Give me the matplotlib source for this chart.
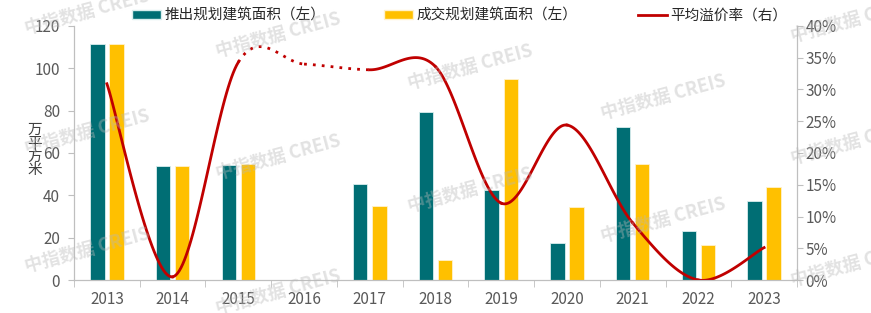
import numpy as np
import matplotlib.pyplot as plt
from matplotlib.lines import Line2D
from matplotlib.patches import Patch

plt.rcParams['font.family'] = ['Noto Sans CJK SC', 'DejaVu Sans']

# data
years = ['2013', '2014', '2015', '2016', '2017', '2018', '2019', '2020', '2021', '2022', '2023']
launched = [111.5, 54, 54.5, np.nan, 45.3, 79.5, 42.5, 17.5, 72.3, 23, 37.3]   # 推出规划建筑面积 (万平方米)
sold = [111.5, 54, 55, np.nan, 35, 9.4, 95, 34.5, 54.8, 16.5, 44]            # 成交规划建筑面积 (万平方米)
premium = [30.9, 0.5, 34.3, 34.0, 33.1, 33.6, 12.1, 24.4, 9.0, 0.0, 5.1]     # 平均溢价率 (%)

teal = '#006e74'
yellow = '#ffc000'
red = '#c00000'
grey = '#595959'


def smooth(xs, ys, n=40):
    # Excel-style smoothed line (Catmull-Rom through the points)
    xs = np.asarray(xs, float)
    ys = np.asarray(ys, float)
    px, py = [], []
    for i in range(len(xs) - 1):
        x0, y0 = (xs[i - 1], ys[i - 1]) if i > 0 else (xs[i], ys[i])
        x3, y3 = (xs[i + 2], ys[i + 2]) if i + 2 < len(xs) else (xs[i + 1], ys[i + 1])
        x1, y1, x2, y2 = xs[i], ys[i], xs[i + 1], ys[i + 1]
        c1x, c1y = x1 + (x2 - x0) / 6, y1 + (y2 - y0) / 6
        c2x, c2y = x2 - (x3 - x1) / 6, y2 - (y3 - y1) / 6
        t = np.linspace(0, 1, n)
        bx = (1 - t) ** 3 * x1 + 3 * (1 - t) ** 2 * t * c1x + 3 * (1 - t) * t ** 2 * c2x + t ** 3 * x2
        by = (1 - t) ** 3 * y1 + 3 * (1 - t) ** 2 * t * c1y + 3 * (1 - t) * t ** 2 * c2y + t ** 3 * y2
        px.append(bx)
        py.append(by)
    return px, py


fig = plt.figure(figsize=(8.71, 3.13), dpi=100)
ax = fig.add_axes([0.085, 0.1054, 0.83, 0.8116])
ax2 = ax.twinx()

x = np.arange(len(years))
w = 0.22
ax.bar(x - 0.145, launched, w, color=teal, edgecolor='#d9eeee', linewidth=0.6, zorder=2)
ax.bar(x + 0.145, sold, w, color=yellow, edgecolor='#fff2cc', linewidth=0.6, zorder=2)

segx, segy = smooth(x, premium)
for i, (sx, sy) in enumerate(zip(segx, segy)):
    if i in (2, 3):
        ax2.plot(sx, sy, color=red, lw=2, linestyle=(0, (1, 2.2)), solid_capstyle='round')
    else:
        ax2.plot(sx, sy, color=red, lw=2)

ax.set_xlim(-0.5, len(years) - 0.5)
ax.set_ylim(0, 120)
ax.set_yticks(range(0, 121, 20))
ax2.set_ylim(0, 40)
ax2.set_yticks(range(0, 41, 5))
ax2.set_yticklabels([f'{v}%' for v in range(0, 41, 5)])

ax.set_xticks(x)
ax.set_xticklabels(years)
ax.set_xticks(np.arange(-0.5, len(years)), minor=True)
ax.tick_params(axis='x', which='major', length=0, pad=8, labelsize=11, labelcolor=grey)
ax.tick_params(axis='x', which='minor', length=5, color='#bfbfbf')
ax.tick_params(axis='y', length=4, color='#bfbfbf', labelsize=11, labelcolor=grey, pad=6)
ax2.tick_params(axis='y', length=4, color='#bfbfbf', labelsize=11, labelcolor=grey, pad=2)

for a in (ax, ax2):
    a.spines['top'].set_visible(False)
    for s in ('left', 'right', 'bottom'):
        a.spines[s].set_color('#bfbfbf')

fig.text(0.04, 0.52, '万\n平\n方\n米', ha='center', va='center', fontsize=10.5,
         color='#404040', linespacing=0.95)

# legend entries placed one by one to match the spacing
handles = [Patch(facecolor=teal, edgecolor='#d9eeee'), Patch(facecolor=yellow, edgecolor='#fff2cc'),
           Line2D([], [], color=red, lw=2)]
labels = ['推出规划建筑面积（左）', '成交规划建筑面积（左）', '平均溢价率（右）']
starts = [132, 384, 638]
for h, lab, sx in zip(handles, labels, starts):
    fig.legend([h], [lab], loc='center left', bbox_to_anchor=(sx / 871, 1 - 16 / 313),
               frameon=False, fontsize=10.5, handlelength=2.0, handleheight=0.55,
               handletextpad=0.2, borderpad=0, borderaxespad=0, labelcolor='#262626')

# watermarks (pixel centres)
marks = [(87, 12), (87, 132), (87, 250), (278, 35), (278, 157), (278, 292),
         (470, 67), (470, 190), (663, 97), (663, 220), (853, 20), (853, 142), (853, 264)]
for mx, my in marks:
    fig.text(mx / 871, 1 - my / 313, '中指数据 CREIS', fontsize=13, fontweight='bold',
             color='#b8b8b8', alpha=0.4, rotation=15, ha='center', va='center', zorder=10)

fig.savefig('out.png', dpi=100)
